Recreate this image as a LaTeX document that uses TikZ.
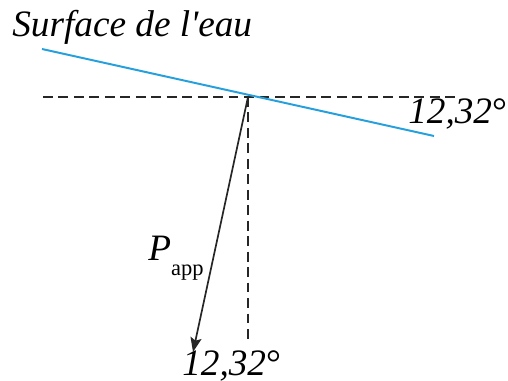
\documentclass[tikz,border=0pt]{standalone}
\usepackage{fontspec}
\usepackage{xcolor}
\usepackage{tikz}
\usetikzlibrary{arrows.meta}
\newfontfamily\wfont{Liberation Serif}[Ligatures=TeXOff]
\definecolor{watercol}{RGB}{38,160,220}
\tikzset{
  surface/.style={draw=watercol, line width=1.4pt},
  refline/.style={draw=black!85, line width=1.2pt, dash pattern=on 7pt off 4pt},
  forcearrow/.style={-{Stealth[length=3.6mm, width=2.8mm, inset=0.7mm]}, line width=1.2pt, black!85},
  anglelabel/.style={font=\wfont\fontsize{26.5}{30}\selectfont\itshape, inner sep=0pt, anchor=base west},
  biglabel/.style={anglelabel}
}
\begin{document}
\begin{tikzpicture}[x=0.025cm, y=-0.025cm]
\useasboundingbox (0,0) rectangle (508,381);

% Points
\coordinate (surfL) at (42,49);
\coordinate (surfR) at (434,136);
\coordinate (hL)    at (43,97);
\coordinate (hR)    at (458,97);
\coordinate (O)     at (248,97);
\coordinate (vB)    at (248,342);
\coordinate (tip)   at (193,352);

% Reference lines
\draw[refline] (hL) -- (hR);
\draw[refline] (O) -- (vB);

% Water surface
\draw[surface] (surfL) -- (surfR);

% Apparent weight
\draw[forcearrow] (O) -- (tip);

% Labels
\node[biglabel] (title) at (12,37) {Surface de l'eau};
\node[anglelabel] (angtop) at (408,124) {12,32{\upshape°}};
\node[anglelabel] (angbot) at (182,375) {12,32{\upshape°}};
\node[anglelabel] (papp) at (148,261) {P\raisebox{-0.4em}{\upshape\fontsize{16}{18}\selectfont app}};

\end{tikzpicture}
\end{document}
